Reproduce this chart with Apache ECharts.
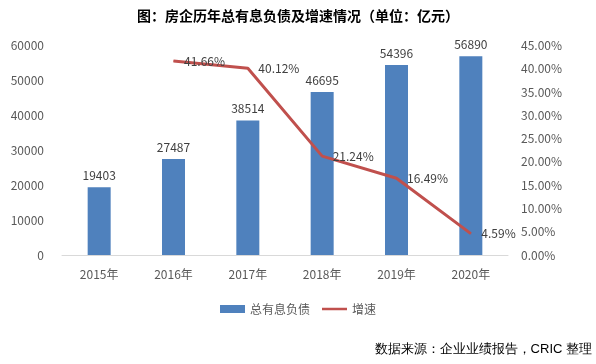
<!DOCTYPE html>
<html><head><meta charset="utf-8">
<script src="https://cdn.jsdelivr.net/npm/echarts@6/dist/echarts.min.js"></script>
<style>html,body{margin:0;padding:0;background:#fff}#c{width:596px;height:364px}</style>
</head><body><div id="c"></div>
<script>
const categories = ['2015年','2016年','2017年','2018年','2019年','2020年'];
const debtValues = [19403, 27487, 38514, 46695, 54396, 56890];
const growthValues = [null, 41.66, 40.12, 21.24, 16.49, 4.59];
const leftTicks = {min: 0, max: 60000, interval: 10000};
const rightTicks = {min: 0, max: 45, interval: 5};

const FONT = '"Noto Sans CJK SC", sans-serif';
const chart = echarts.init(document.getElementById('c'), null, {renderer: 'canvas'});
chart.setOption({
  animation: false,
  textStyle: {fontFamily: FONT},
  title: {
    text: '图：房企历年总有息负债及增速情况（单位：亿元）',
    left: 'center', top: 4,
    textStyle: {fontSize: 14, fontWeight: 'bold', color: '#000', fontFamily: FONT}
  },
  grid: {left: 62, right: 88, top: 45.5, bottom: 109},
  legend: {
    top: 298, left: 'center', itemGap: 12,
    textStyle: {fontSize: 12, color: '#595959', fontFamily: FONT},
    data: [
      {name: '总有息负债', icon: 'rect', itemStyle: {color: '#4F81BD'}},
      {name: '增速', icon: 'path://M0,0 L30,0 L30,3 L0,3 Z', itemStyle: {color: '#C0504D'}}
    ],
    itemWidth: 25, itemHeight: 8
  },
  xAxis: {
    type: 'category', data: categories,
    axisLine: {lineStyle: {color: '#D9D9D9', width: 1}},
    axisTick: {show: false},
    axisLabel: {color: '#595959', fontSize: 12, margin: 13, fontFamily: FONT}
  },
  yAxis: [
    {type: 'value', min: leftTicks.min, max: leftTicks.max, interval: leftTicks.interval,
     splitLine: {show: false}, axisLine: {show: false}, axisTick: {show: false},
     axisLabel: {color: '#595959', fontSize: 12, margin: 18, fontFamily: FONT,
       formatter: v => String(v)}},
    {type: 'value', min: rightTicks.min, max: rightTicks.max, interval: rightTicks.interval,
     splitLine: {show: false}, axisLine: {show: false}, axisTick: {show: false},
     axisLabel: {color: '#595959', fontSize: 12, margin: 13, fontFamily: FONT,
       formatter: v => v.toFixed(2) + '%'}}
  ],
  series: [
    {name: '总有息负债', type: 'bar', data: debtValues, barWidth: 23,
     itemStyle: {color: '#4F81BD'},
     label: {show: true, position: 'top', distance: 6, color: '#404040', fontSize: 12, fontFamily: FONT}},
    {name: '增速', type: 'line', yAxisIndex: 1, data: growthValues,
     symbol: 'circle', symbolSize: 1, showSymbol: true,
     lineStyle: {color: '#C0504D', width: 3}, itemStyle: {color: '#C0504D'},
     label: {show: true, position: 'right', distance: 10, color: '#404040', fontSize: 12, fontFamily: FONT,
       formatter: p => p.value.toFixed(2) + '%'}}
  ],
  graphic: [{
    type: 'text', right: 4, top: 343,
    style: {text: '数据来源：企业业绩报告，CRIC 整理', fontSize: 13, fill: '#000', font: '13px ' + FONT}
  }]
});
</script></body></html>
